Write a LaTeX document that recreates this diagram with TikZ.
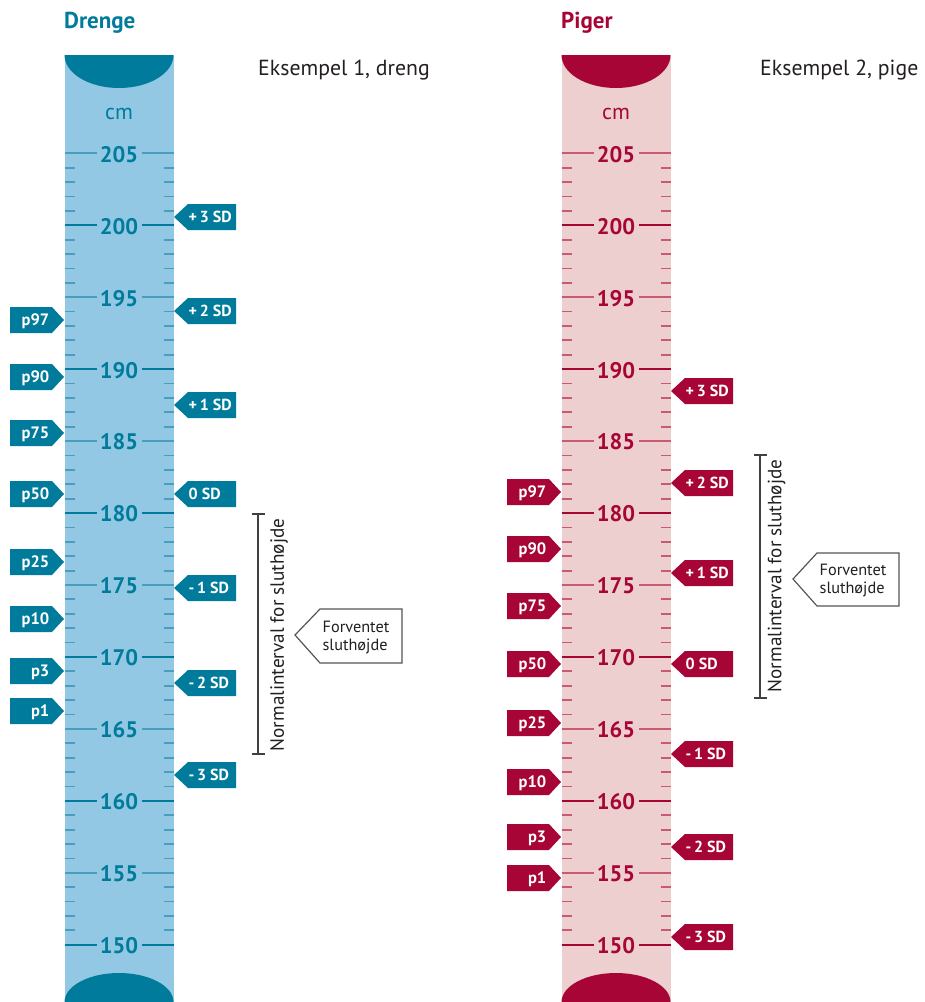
\documentclass[tikz,border=0pt]{standalone}
\usepackage{fontspec}
\setmainfont{PT Sans}
\usetikzlibrary{arrows.meta}

\definecolor{boyfill}{HTML}{92C8E3}
\definecolor{boydark}{HTML}{007B9B}
\definecolor{boylight}{HTML}{4A9DBC}
\definecolor{girlfill}{HTML}{ECCFCE}
\definecolor{girldark}{HTML}{A60536}
\definecolor{girllight}{HTML}{C85A74}
\definecolor{inktext}{HTML}{231F20}
\definecolor{bracketgray}{HTML}{404040}
\definecolor{calloutgray}{HTML}{555555}

% vertical position (in px) of a height in cm
\newcommand\cmy[1]{153.3+(205-#1)*14.39}

% measuring strip: #1 left x, #2 fill, #3 dark, #4 light, #5 name prefix
\newcommand\measurestrip[5]{%
  \fill[#2] (#1,55) rectangle (#1+109,1002);
  \begin{scope}
    \clip (#1,55) rectangle (#1+109,1002);
    \fill[#3] (#1+54.5,55) ellipse [x radius=54.5, y radius=33];
    \fill[#3] (#1+54.5,1002) ellipse [x radius=54.5, y radius=29];
  \end{scope}
  \node[unitlabel, text=#3] (#5-cm) at (#1+54.5,114) {cm};
  \foreach \hh in {150,...,205}{%
    \pgfmathsetmacro\yy{\cmy{\hh}}%
    \pgfmathtruncatemacro\mf{mod(\hh,5)}%
    \pgfmathtruncatemacro\mt{mod(\hh,10)}%
    \ifnum\mf=0
      \ifnum\mt=0 \def\tc{#3}\else\def\tc{#4}\fi
      \draw[majortick, color=\tc] (#1,\yy) -- (#1+32.5,\yy) (#1+77.5,\yy) -- (#1+109,\yy);
      \node[scalenum, text=#3] (#5-\hh) at (#1+54.5,\yy+1) {\hh};
    \else
      \draw[minortick, color=#4] (#1,\yy) -- (#1+10,\yy) (#1+99,\yy) -- (#1+109,\yy);
    \fi
  }%
}

% percentile tag pointing right: #1 name, #2 colour, #3 left x, #4 body right x, #5 y, #6 text
\newcommand\pcttag[6]{%
  \fill[#2] (#3,#5-13) -- (#4,#5-13) -- (#4+12,#5) -- (#4,#5+13) -- (#3,#5+13) -- cycle;
  \node[pcttext, anchor=base east] (#1) at (#4-2.5,#5+5.8) {#6};
}

% SD tag pointing left: #1 name, #2 colour, #3 tip x, #4 right x, #5 y, #6 text
\newcommand\sdtag[6]{%
  \fill[#2] (#3,#5) -- (#3+14,#5-13) -- (#4,#5-13) -- (#4,#5+13) -- (#3+14,#5+13) -- cycle;
  \node[sdtext, anchor=base west] (#1) at (#3+14.5,#5+5.6) {#6};
}

\begin{document}
\begin{tikzpicture}[x=1pt,y=-1pt,
  unitlabel/.style={inner sep=0pt, font=\fontsize{22}{24}\selectfont},
  scalenum/.style={inner sep=0pt, font=\fontsize{22.5}{25}\selectfont\bfseries},
  majortick/.style={line width=2.3pt},
  minortick/.style={line width=1.8pt},
  pcttext/.style={inner sep=0pt, text=white, font=\fontsize{16.5}{18}\selectfont\bfseries},
  sdtext/.style={inner sep=0pt, text=white, font=\fontsize{16}{18}\selectfont\bfseries},
  heading/.style={inner sep=0pt, anchor=base west, font=\fontsize{23}{26}\selectfont\bfseries},
  example/.style={inner sep=0pt, anchor=base west, text=inktext, font=\fontsize{21.8}{24}\selectfont},
  bracket/.style={line width=2.2pt, color=bracketgray, {Bar[width=13pt]}-{Bar[width=13pt]}},
  intervaltext/.style={inner sep=0pt, rotate=90, text=inktext, font=\fontsize{19.2}{22}\selectfont},
  callout/.style={draw=calloutgray, line width=1.2pt, fill=white, line join=miter},
  callouttext/.style={inner sep=0pt, align=left, text=inktext, font=\fontsize{16.3}{18}\selectfont}
]
\useasboundingbox (0,0) rectangle (925,1002);

% ---------- boys ----------
\node[heading, text=boydark] (boys-title) at (64,28) {Drenge};
\node[example] (boys-example) at (258,75) {Eksempel 1, dreng};
\measurestrip{64.5}{boyfill}{boydark}{boylight}{b}

\sdtag{b-sd3}{boydark}{174}{236}{217}{+\,3 SD}
\sdtag{b-sd2}{boydark}{174}{236}{311}{+\,2 SD}
\sdtag{b-sd1}{boydark}{174}{236}{405}{+\,1 SD}
\sdtag{b-sd0}{boydark}{174}{236}{494}{0 SD}
\sdtag{b-sdm1}{boydark}{174}{236}{588}{-\,1 SD}
\sdtag{b-sdm2}{boydark}{174}{236}{683}{-\,2 SD}
\sdtag{b-sdm3}{boydark}{174}{236}{775}{-\,3 SD}

\pcttag{b-p97}{boydark}{10}{52}{320}{p97}
\pcttag{b-p90}{boydark}{10}{52}{377}{p90}
\pcttag{b-p75}{boydark}{10}{52}{433}{p75}
\pcttag{b-p50}{boydark}{10}{52}{494}{p50}
\pcttag{b-p25}{boydark}{10}{52}{562}{p25}
\pcttag{b-p10}{boydark}{10}{52}{619}{p10}
\pcttag{b-p3}{boydark}{10}{52}{671}{p3}
\pcttag{b-p1}{boydark}{10}{52}{711}{p1}

\coordinate (b-int-top) at (258,513);
\coordinate (b-int-bot) at (258,755);
\draw[bracket] (b-int-top) -- (b-int-bot);
\node[intervaltext] (b-int) at (279,635) {Normalinterval for sluthøjde};
\draw[callout] (295,635) -- (320,609) -- (402,609) -- (402,663) -- (320,663) -- cycle;
\node[callouttext] (b-expected) at (356,637.5) {Forventet\\sluthøjde};

% ---------- girls ----------
\node[heading, text=girldark] (girls-title) at (561,28) {Piger};
\node[example] (girls-example) at (760,75) {Eksempel 2, pige};
\measurestrip{561.5}{girlfill}{girldark}{girllight}{g}

\sdtag{g-sd3}{girldark}{671}{733}{391}{+\,3 SD}
\sdtag{g-sd2}{girldark}{671}{733}{483}{+\,2 SD}
\sdtag{g-sd1}{girldark}{671}{733}{573}{+\,1 SD}
\sdtag{g-sd0}{girldark}{671}{733}{664}{0 SD}
\sdtag{g-sdm1}{girldark}{671}{733}{754}{-\,1 SD}
\sdtag{g-sdm2}{girldark}{671}{733}{847}{-\,2 SD}
\sdtag{g-sdm3}{girldark}{671}{733}{937}{-\,3 SD}

\pcttag{g-p97}{girldark}{507}{549}{492}{p97}
\pcttag{g-p90}{girldark}{507}{549}{549}{p90}
\pcttag{g-p75}{girldark}{507}{549}{606}{p75}
\pcttag{g-p50}{girldark}{507}{549}{664}{p50}
\pcttag{g-p25}{girldark}{507}{549}{723}{p25}
\pcttag{g-p10}{girldark}{507}{549}{782}{p10}
\pcttag{g-p3}{girldark}{507}{549}{837}{p3}
\pcttag{g-p1}{girldark}{507}{549}{878}{p1}

\coordinate (g-int-top) at (760,454);
\coordinate (g-int-bot) at (760,699);
\draw[bracket] (g-int-top) -- (g-int-bot);
\node[intervaltext] (g-int) at (776.5,576) {Normalinterval for sluthøjde};
\draw[callout] (793,579) -- (817,553) -- (899,553) -- (899,606) -- (817,606) -- cycle;
\node[callouttext] (g-expected) at (853,581) {Forventet\\sluthøjde};
\end{tikzpicture}
\end{document}
